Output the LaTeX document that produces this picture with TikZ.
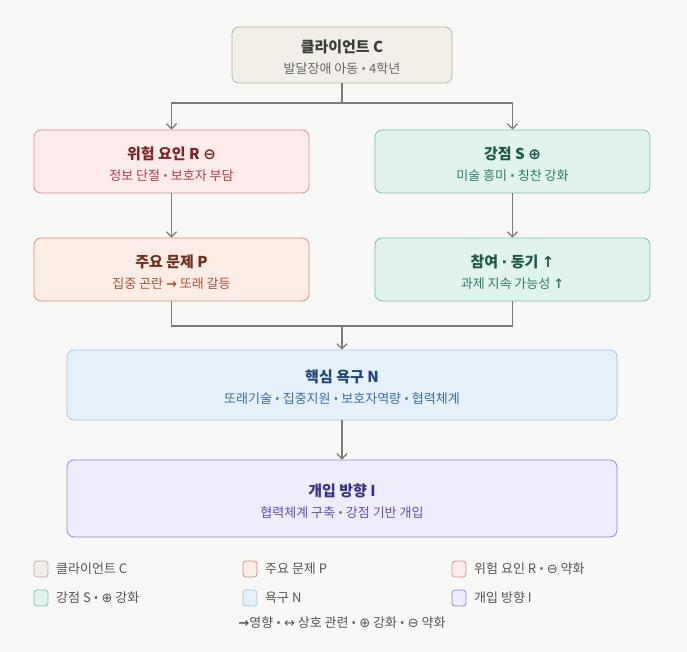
\documentclass[tikz,border=0pt]{standalone}
\usepackage{fontspec}
\setmainfont{Noto Sans CJK KR}
\newfontfamily\symfont{DejaVu Sans}
\usetikzlibrary{arrows.meta}
\usepackage{xcolor}

\definecolor{bg}{HTML}{F8F8F6}
\definecolor{wire}{HTML}{7A7A76}
\definecolor{cfill}{HTML}{F2EFE8}\definecolor{cline}{HTML}{B8B3A8}
\definecolor{ctit}{HTML}{3C3C3A}\definecolor{csub}{HTML}{666660}
\definecolor{rfill}{HTML}{FCEBEB}\definecolor{rline}{HTML}{DC8E92}
\definecolor{rtit}{HTML}{7E2424}\definecolor{rsub}{HTML}{B23E46}
\definecolor{pfill}{HTML}{FBECE6}\definecolor{pline}{HTML}{D3907C}
\definecolor{ptit}{HTML}{712C1A}\definecolor{psub}{HTML}{AC5034}
\definecolor{sfill}{HTML}{E1F4EC}\definecolor{sline}{HTML}{7FBFA6}
\definecolor{stit}{HTML}{1C5A41}\definecolor{ssub}{HTML}{2B7D5C}
\definecolor{nfill}{HTML}{E6F0FB}\definecolor{nline}{HTML}{A6C4E6}
\definecolor{ntit}{HTML}{1D4777}\definecolor{nsub}{HTML}{3A6CA6}
\definecolor{ifill}{HTML}{EEEDFE}\definecolor{iline}{HTML}{8E86D8}
\definecolor{itit}{HTML}{3A3287}\definecolor{isub}{HTML}{5A50B8}
\definecolor{legtext}{HTML}{555552}

\newcommand{\sy}[1]{{\symfont #1}}
\newcommand{\md}{{\symfont\bfseries ·}}
\newcommand{\ttl}{\fontsize{15}{21}\selectfont\bfseries\rule{0pt}{18pt}}

\begin{document}
\begin{tikzpicture}[x=1pt,y=-1pt,
     box/.style={draw,rounded corners=7pt,line width=0.8pt,align=center,
       inner sep=0pt,font=\fontsize{13}{21}\selectfont},
     cbox/.style={box,fill=cfill,draw=cline,text=csub,
       minimum width=220pt,minimum height=56pt},
     side/.style={box,minimum width=275pt,minimum height=63pt},
     wide/.style={box,minimum width=550pt},
     link/.style={draw=wire,line width=1.3pt},
     arr/.style={link,-{Straight Barb[length=5pt,width=10pt,line width=1.3pt]}},
     swatch/.style={draw,rounded corners=3pt,line width=0.8pt,
       minimum width=14pt,minimum height=16pt,inner sep=0pt},
     lab/.style={anchor=west,inner sep=0pt,text=legtext,
       font=\fontsize{13}{15}\selectfont}]
    \useasboundingbox[fill=bg] (0,0) rectangle (687,652);
    % boxes
    \node[cbox] (client) at (342,55)
      {{\color{ctit}\ttl 클라이언트 C}\\발달장애 아동 \md{} 4학년};
    \node[side,fill=rfill,draw=rline,text=rsub] (risk) at (171.5,161.5)
      {{\color{rtit}\ttl 위험 요인 R \sy{⊖}}\\정보 단절 \md{} 보호자 부담};
    \node[side,fill=sfill,draw=sline,text=ssub] (strength) at (512.5,161.5)
      {{\color{stit}\ttl 강점 S \sy{⊕}}\\미술 흥미 \md{} 칭찬 강화};
    \node[side,fill=pfill,draw=pline,text=psub] (problem) at (171.5,269.5)
      {{\color{ptit}\ttl 주요 문제 P}\\집중 곤란 \sy{\bfseries →} 또래 갈등};
    \node[side,fill=sfill,draw=sline,text=ssub] (engage) at (512.5,269.5)
      {{\color{stit}\ttl 참여 \md{} 동기 \sy{\bfseries ↑}}\\과제 지속 가능성 \sy{\bfseries ↑}};
    \node[wide,fill=nfill,draw=nline,text=nsub,minimum height=70pt] (need) at (342,385)
      {{\color{ntit}\ttl 핵심 욕구 N}\\또래기술 \md{} 집중지원 \md{} 보호자역량 \md{} 협력체계};
    \node[wide,fill=ifill,draw=iline,text=isub,minimum height=77pt] (plan) at (342,498.5)
      {{\color{itit}\ttl 개입 방향 I}\\협력체계 구축 \md{} 강점 기반 개입};
    % connectors
    \coordinate (fork) at (342,103);
    \coordinate (join) at (342,326);
    \draw[link] (client.south) -- (fork);
    \draw[arr] (fork) -| (risk.north);
    \draw[arr] (fork) -| (strength.north);
    \draw[arr] (risk.south) -- (problem.north);
    \draw[arr] (strength.south) -- (engage.north);
    \draw[link] (problem.south) |- (join);
    \draw[link] (engage.south) |- (join);
    \draw[arr] (join) -- (need.north);
    \draw[arr] (need.south) -- (plan.north);
    % legend
    \node[swatch,fill=cfill,draw=cline] (kc) at (41,569) {};
    \node[lab] (kct) at (56,569) {클라이언트 C};
    \node[swatch,fill=pfill,draw=pline] (kp) at (250,569) {};
    \node[lab] (kpt) at (265,569) {주요 문제 P};
    \node[swatch,fill=rfill,draw=rline] (kr) at (459,569) {};
    \node[lab] (krt) at (474,569) {위험 요인 R \md{} \sy{⊖} 약화};
    \node[swatch,fill=sfill,draw=sline] (ks) at (41,598) {};
    \node[lab] (kst) at (56,598) {강점 S \md{} \sy{⊕} 강화};
    \node[swatch,fill=nfill,draw=nline] (kn) at (250,598) {};
    \node[lab] (knt) at (265,598) {욕구 N};
    \node[swatch,fill=ifill,draw=iline] (ki) at (459,598) {};
    \node[lab] (kit) at (474,598) {개입 방향 I};
    \node[lab,anchor=center] (note) at (342,623)
      {\sy{\bfseries →}영향 \md{} \sy{↔} 상호 관련 \md{} \sy{⊕} 강화 \md{} \sy{⊖} 약화};
  \end{tikzpicture}
\end{document}
